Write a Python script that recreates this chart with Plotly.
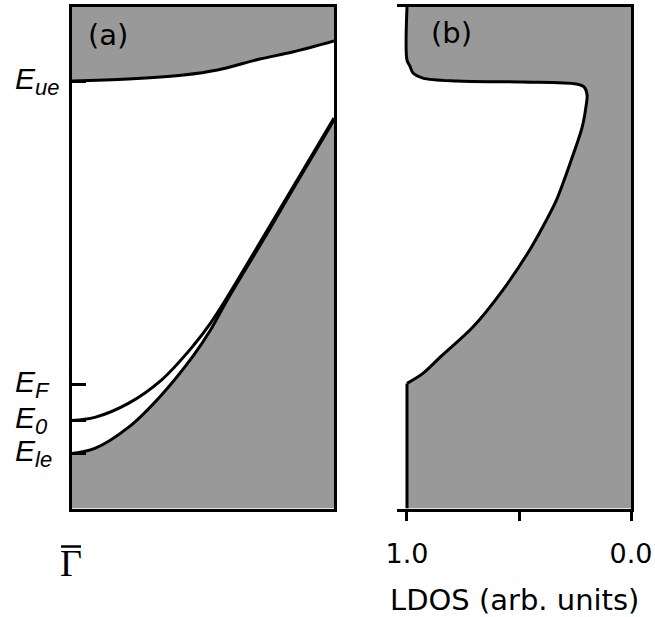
import plotly.graph_objects as go

W, H = 655, 617

# ---- Panel (a): band dispersion around Gamma-bar (energy in meV rel. to E_F) ----
k_ue = [0.0, 0.215, 0.426, 0.555, 0.717, 0.842, 1.0]
E_ue_band = [303, 305, 309, 314, 325, 332, 343]

k_le = [0.0, 0.087, 0.215, 0.34, 0.464, 0.528, 0.592, 0.743, 0.868, 1.0]
E_le_band = [-69, -64, -43, -11, 29, 54, 84, 150, 206, 264]

k_ss = [0.0, 0.087, 0.215, 0.34, 0.464, 0.528, 0.592, 0.743, 0.868, 1.0]
E_ss = [-36, -33, -19, 4, 39, 61, 87, 153, 208, 266]

# Reference energies marked on the axis
level_names = ["ue", "F", "0", "le"]
level_E = [303, 0, -36, -69]

E_min, E_max = -124, 377

# ---- Panel (b): local density of states ----
ldos = [1.0, 1.0, 0.987, 0.973, 0.929, 0.778, 0.484, 0.244, 0.209, 0.196, 0.2,
        0.218, 0.267, 0.333, 0.378, 0.453, 0.573, 0.707, 0.853, 0.929, 1.0]
E_ldos = [377, 324, 318, 311, 306, 303, 302, 300, 297, 289, 279,
          257, 224, 184, 164, 134, 94, 57, 27, 11, 1]
ldos_tail = [1.0, 1.0]
E_tail = [1, E_min]

ldos_ticks = [1.0, 0.5, 0.0]
ldos_ticktext = ["1.0", "", "0.0"]

GRAY = "#999999"


def px_x(p):
    return p / W


def px_y(p):
    return 1 - p / H


fig = go.Figure()

# upper band continuum
fig.add_trace(go.Scatter(x=[0, 1], y=[E_max, E_max], mode="lines",
                         line=dict(width=0), showlegend=False,
                         xaxis="x", yaxis="y", hoverinfo="skip"))
fig.add_trace(go.Scatter(x=k_ue, y=E_ue_band, mode="lines", fill="tonexty",
                         fillcolor=GRAY, line=dict(color="black", width=3, shape="spline"),
                         showlegend=False, xaxis="x", yaxis="y"))
# lower band continuum
fig.add_trace(go.Scatter(x=[0, 1], y=[E_min, E_min], mode="lines",
                         line=dict(width=0), showlegend=False,
                         xaxis="x", yaxis="y", hoverinfo="skip"))
fig.add_trace(go.Scatter(x=k_le, y=E_le_band, mode="lines", fill="tonexty",
                         fillcolor=GRAY, line=dict(color="black", width=3, shape="spline"),
                         showlegend=False, xaxis="x", yaxis="y"))
# surface state
fig.add_trace(go.Scatter(x=k_ss, y=E_ss, mode="lines",
                         line=dict(color="black", width=3, shape="spline"),
                         showlegend=False, xaxis="x", yaxis="y"))

# LDOS: fill below the step (overlapping the last curve segment to avoid a seam)
fig.add_trace(go.Scatter(x=[ldos[-2]] + ldos_tail, y=[E_ldos[-2]] + E_tail,
                         mode="lines", fill="tozerox", fillcolor=GRAY,
                         line=dict(width=0), showlegend=False,
                         xaxis="x2", yaxis="y2", hoverinfo="skip"))
fig.add_trace(go.Scatter(x=ldos, y=E_ldos, mode="lines", fill="tozerox",
                         fillcolor=GRAY,
                         line=dict(color="black", width=3, shape="spline", smoothing=0.9),
                         showlegend=False, xaxis="x2", yaxis="y2"))
fig.add_trace(go.Scatter(x=ldos_tail, y=E_tail, mode="lines",
                         line=dict(color="black", width=3),
                         showlegend=False, xaxis="x2", yaxis="y2"))

ydom = [px_y(508.5), px_y(7)]

fig.update_layout(
    width=W, height=H,
    margin=dict(l=0, r=0, t=0, b=0, pad=0),
    paper_bgcolor="white", plot_bgcolor="white",
    xaxis=dict(domain=[px_x(72), px_x(334)], range=[0, 1], automargin=False,
               showline=True, linecolor="black", linewidth=3, mirror=True,
               showgrid=False, zeroline=False, showticklabels=False, ticks=""),
    yaxis=dict(domain=ydom, range=[E_min, E_max], automargin=False,
               showline=True, linecolor="black", linewidth=3, mirror=True,
               showgrid=False, zeroline=False, showticklabels=False,
               ticks="inside", tickvals=level_E, ticklen=14, tickwidth=3,
               tickcolor="black"),
    xaxis2=dict(domain=[px_x(397), px_x(631)], range=[1.0446, 0],
                anchor="y2", automargin=False,
                showline=True, linecolor="black", linewidth=3, mirror=True,
                showgrid=False, zeroline=False,
                ticks="outside", tickvals=ldos_ticks, ticktext=ldos_ticktext,
                ticklen=9, tickwidth=3, tickcolor="black", ticklabelstandoff=10,
                tickfont=dict(family="DejaVu Sans", size=27, color="black")),
    yaxis2=dict(domain=ydom, range=[E_min, E_max], anchor="x2", side="right",
                automargin=False,
                showline=True, linecolor="black", linewidth=3,
                showgrid=False, zeroline=False, showticklabels=False, ticks=""),
)

annotations = []
for name, e in zip(level_names, level_E):
    annotations.append(dict(
        text=f"<i>E</i><sub><span style=\"font-size:22px\"><i>{name}</i></span></sub>",
        x=px_x(13), xref="paper", xanchor="left",
        y=e, yref="y", yanchor="middle", yshift=0,
        showarrow=False,
        font=dict(family="Liberation Sans", size=30, color="black")))

annotations.append(dict(text="(a)", x=px_x(108), y=px_y(35), xref="paper", yref="paper",
                        showarrow=False, xanchor="center", yanchor="middle",
                        font=dict(family="DejaVu Sans", size=29, color="black")))
annotations.append(dict(text="(b)", x=px_x(452), y=px_y(33), xref="paper", yref="paper",
                        showarrow=False, xanchor="center", yanchor="middle",
                        font=dict(family="DejaVu Sans", size=29, color="black")))
annotations.append(dict(text="\u0393", x=px_x(71), y=px_y(563), xref="paper", yref="paper",
                        showarrow=False, xanchor="center", yanchor="middle",
                        font=dict(family="Liberation Serif", size=38, color="black")))
annotations.append(dict(text="LDOS (arb. units)", x=px_x(514), y=px_y(600),
                        xref="paper", yref="paper",
                        showarrow=False, xanchor="center", yanchor="middle",
                        font=dict(family="DejaVu Sans", size=29, color="black")))
fig.update_layout(annotations=annotations)

# bar over the Gamma symbol
fig.add_shape(type="line", xref="paper", yref="paper",
              x0=px_x(61), x1=px_x(81), y0=px_y(546.5), y1=px_y(546.5),
              line=dict(color="black", width=2.5))

fig.write_html("out.html")
